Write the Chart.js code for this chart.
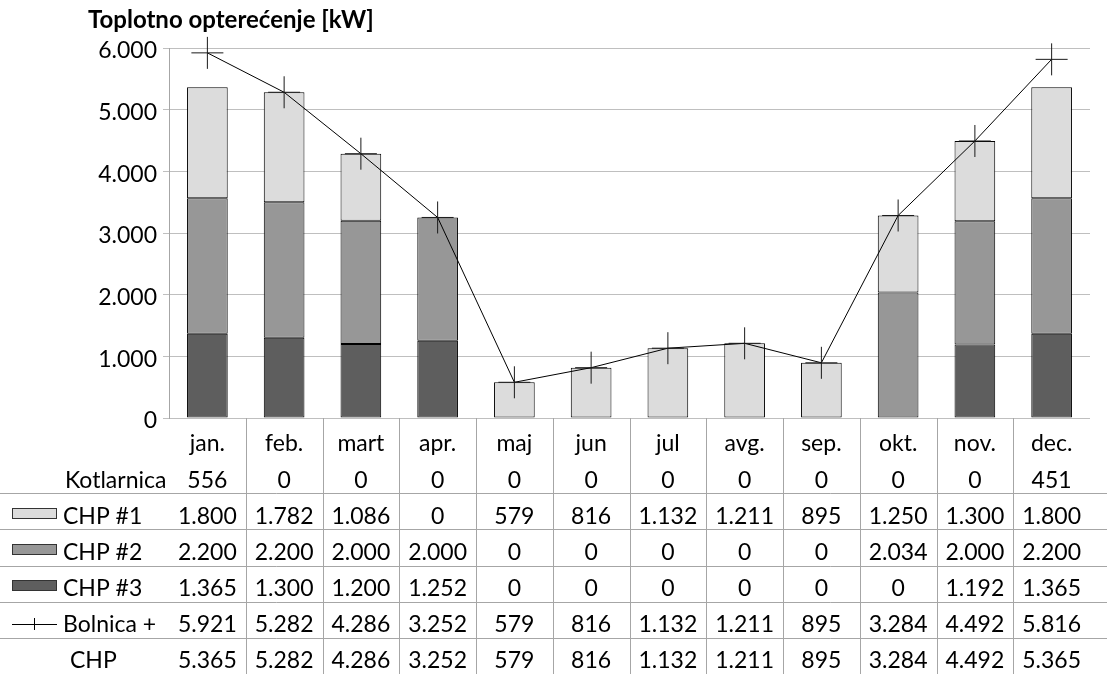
<!DOCTYPE html>
<html>
<head>
<meta charset="utf-8">
<title>Toplotno opterećenje</title>
<script src="https://cdn.jsdelivr.net/npm/chart.js@4"></script>
<style>
    html, body { margin: 0; padding: 0; background: #fff; }
    #wrap { width: 1107px; height: 674px; }
</style>
</head>
<body>
<div id="wrap"><canvas id="heatChart" width="1107" height="674"></canvas></div>
<script>
// Data
const months = ['jan.', 'feb.', 'mart', 'apr.', 'maj', 'jun', 'jul', 'avg.', 'sep.', 'okt.', 'nov.', 'dec.'];
const kotlarnica = [556, 0, 0, 0, 0, 0, 0, 0, 0, 0, 0, 451];
const chp1 = [1800, 1782, 1086, 0, 579, 816, 1132, 1211, 895, 1250, 1300, 1800];
const chp2 = [2200, 2200, 2000, 2000, 0, 0, 0, 0, 0, 2034, 2000, 2200];
const chp3 = [1365, 1300, 1200, 1252, 0, 0, 0, 0, 0, 0, 1192, 1365];
const bolnicaChp = [5921, 5282, 4286, 3252, 579, 816, 1132, 1211, 895, 3284, 4492, 5816];
const chpTotal = [5365, 5282, 4286, 3252, 579, 816, 1132, 1211, 895, 3284, 4492, 5365];
const yMin = 0;
const yMax = 6000;
const yStep = 1000;
const titleText = 'Toplotno opterećenje [kW]';

const FONT = 'Lato, "Open Sans", sans-serif';

function fmt(v) {
    return String(v).replace(/\B(?=(\d{3})+(?!\d))/g, '.');
}

// Draws the title and the data table below the plot
const tablePlugin = {
    id: 'dataTable',
    afterDraw(chart) {
        const ctx = chart.ctx;
        const x = chart.scales.x;
        const area = chart.chartArea;
        const colW = x.getPixelForValue(1) - x.getPixelForValue(0);
        const ds = chart.data.datasets;

        ctx.save();

        // title
        ctx.fillStyle = '#000';
        ctx.font = 'bold 24px ' + FONT;
        ctx.textAlign = 'left';
        ctx.textBaseline = 'alphabetic';
        ctx.fillText(titleText, 88, 28);

        // table rules
        ctx.strokeStyle = '#a6a6a6';
        ctx.lineWidth = 1;
        ctx.beginPath();
        for (let i = 0; i < months.length - 1; i++) {
            const px = Math.round(x.getPixelForValue(i) + colW / 2) + 0.5;
            ctx.moveTo(px, area.bottom);
            ctx.lineTo(px, chart.height);
        }
        [493, 529, 566, 602, 638].forEach(y => {
            ctx.moveTo(0, y + 0.5);
            ctx.lineTo(chart.width, y + 0.5);
        });
        ctx.stroke();

        ctx.font = '23px ' + FONT;
        ctx.fillStyle = '#000';

        // month labels
        ctx.textAlign = 'center';
        months.forEach((m, i) => ctx.fillText(m, x.getPixelForValue(i), 451));

        const rows = [
            { label: 'Kotlarnica', values: kotlarnica, base: 488, lx: 65 },
            { label: 'CHP #1', values: chp1, base: 524, lx: 63, box: ds[2].backgroundColor },
            { label: 'CHP #2', values: chp2, base: 560, lx: 63, box: ds[1].backgroundColor },
            { label: 'CHP #3', values: chp3, base: 596, lx: 63, box: ds[0].backgroundColor },
            { label: 'Bolnica +', values: bolnicaChp, base: 632, lx: 63, line: true },
            { label: 'CHP', values: chpTotal, base: 668, lx: 70 }
        ];

        rows.forEach(row => {
            ctx.textAlign = 'left';
            ctx.fillStyle = '#000';
            ctx.fillText(row.label, row.lx, row.base);

            if (row.box) {
                ctx.fillStyle = row.box;
                ctx.fillRect(12, row.base - 16, 45, 11);
                ctx.strokeStyle = '#333';
                ctx.strokeRect(12.5, row.base - 15.5, 44, 10);
            }
            if (row.line) {
                ctx.strokeStyle = '#000';
                ctx.beginPath();
                ctx.moveTo(12, row.base - 7.5);
                ctx.lineTo(57, row.base - 7.5);
                ctx.moveTo(34.5, row.base - 14);
                ctx.lineTo(34.5, row.base - 2);
                ctx.stroke();
            }

            ctx.fillStyle = '#000';
            ctx.textAlign = 'center';
            row.values.forEach((v, i) => ctx.fillText(fmt(v), x.getPixelForValue(i), row.base));
        });

        ctx.restore();
    }
};

const ctx = document.getElementById('heatChart').getContext('2d');

new Chart(ctx, {
    type: 'bar',
    data: {
        labels: months,
        datasets: [
            {
                label: 'CHP #3',
                data: chp3,
                backgroundColor: '#5e5e5e',
                stack: 'chp',
                order: 1
            },
            {
                label: 'CHP #2',
                data: chp2,
                backgroundColor: '#979797',
                stack: 'chp',
                order: 1
            },
            {
                label: 'CHP #1',
                data: chp1,
                backgroundColor: '#dcdcdc',
                stack: 'chp',
                order: 1
            },
            {
                type: 'line',
                label: 'Bolnica + CHP',
                data: bolnicaChp,
                borderColor: '#000',
                borderWidth: 1,
                tension: 0,
                fill: false,
                pointStyle: 'cross',
                pointRadius: 16,
                pointBorderWidth: 1,
                pointBorderColor: '#1a1a1a',
                pointHoverRadius: 16,
                stack: 'line',
                order: 0,
                clip: false
            }
        ]
    },
    options: {
        responsive: false,
        devicePixelRatio: 1,
        animation: false,
        events: [],
        layout: {
            padding: { top: 48, right: 0, bottom: 256, left: 0 }
        },
        datasets: {
            bar: {
                borderColor: '#000',
                borderWidth: 1,
                borderSkipped: false,
                inflateAmount: 0,
                categoryPercentage: 1,
                barPercentage: 0.53
            }
        },
        plugins: {
            legend: { display: false },
            tooltip: { enabled: false },
            title: { display: false }
        },
        scales: {
            x: {
                display: false,
                stacked: true
            },
            y: {
                stacked: true,
                min: yMin,
                max: yMax,
                afterFit(scale) {
                    scale.width = 169;
                },
                ticks: {
                    stepSize: yStep,
                    padding: 6,
                    labelOffset: 3,
                    color: '#000',
                    font: { family: FONT, size: 23 },
                    callback: value => fmt(value)
                },
                grid: {
                    color: '#bfbfbf',
                    lineWidth: 1,
                    tickLength: 6
                },
                border: {
                    color: '#a6a6a6'
                }
            }
        }
    },
    plugins: [tablePlugin]
});
</script>
</body>
</html>
